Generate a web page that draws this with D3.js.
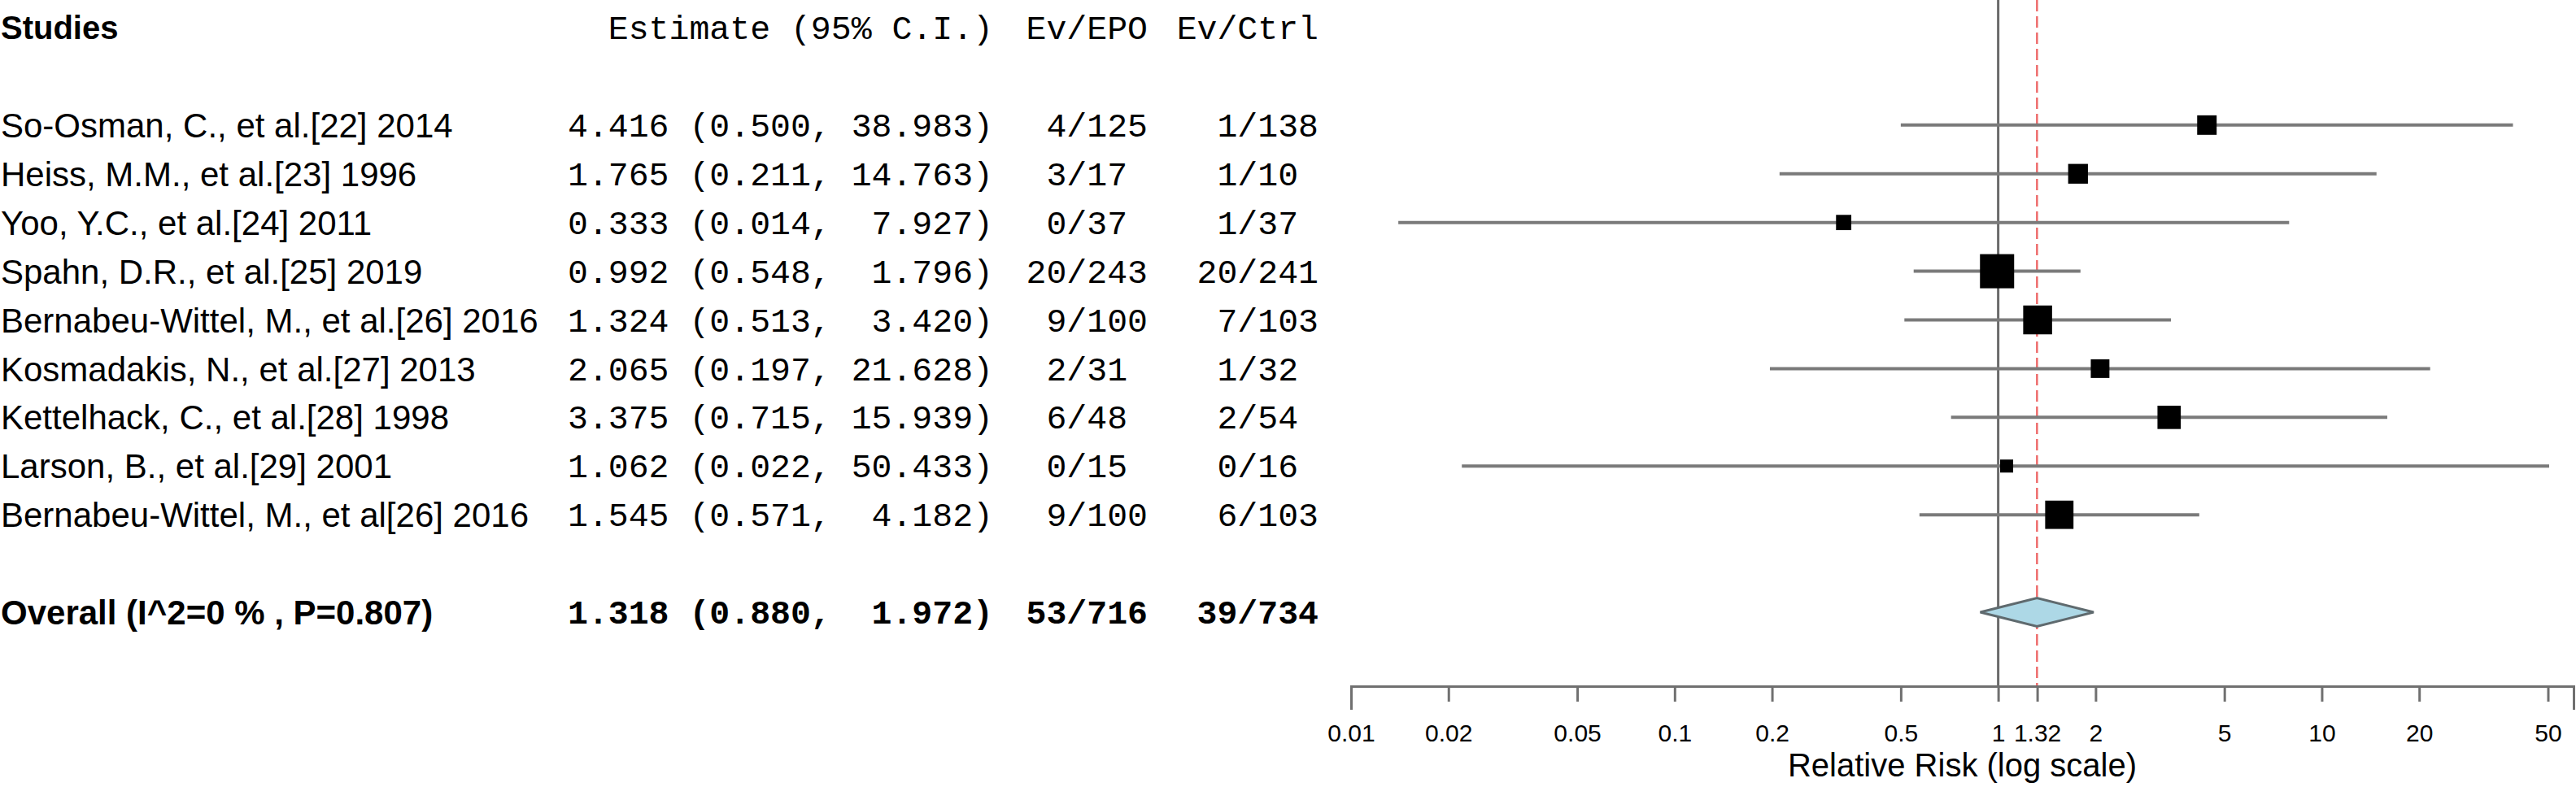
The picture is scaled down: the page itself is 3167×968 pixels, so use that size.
<!DOCTYPE html>
<html>
<head>
<meta charset="utf-8">
<script src="https://cdn.jsdelivr.net/npm/d3@7"></script>
<style>
html, body { margin: 0; padding: 0; background: #ffffff; }
svg { display: block; }
</style>
</head>
<body>
<script>
// ---------------- data ----------------
const studies = [
  "So-Osman, C., et al.[22] 2014",
  "Heiss, M.M., et al.[23] 1996",
  "Yoo, Y.C., et al.[24] 2011",
  "Spahn, D.R., et al.[25] 2019",
  "Bernabeu-Wittel, M., et al.[26] 2016",
  "Kosmadakis, N., et al.[27] 2013",
  "Kettelhack, C., et al.[28] 1998",
  "Larson, B., et al.[29] 2001",
  "Bernabeu-Wittel, M., et al[26] 2016"
];
const estimates = [4.416, 1.765, 0.333, 0.992, 1.324, 2.065, 3.375, 1.062, 1.545];
const lowerCI   = [0.500, 0.211, 0.014, 0.548, 0.513, 0.197, 0.715, 0.022, 0.571];
const upperCI   = [38.983, 14.763, 7.927, 1.796, 3.420, 21.628, 15.939, 50.433, 4.182];
const eventsEPO = [4, 3, 0, 20, 9, 2, 6, 0, 9];
const totalEPO  = [125, 17, 37, 243, 100, 31, 48, 15, 100];
const eventsCtrl = [1, 1, 1, 20, 7, 1, 2, 0, 6];
const totalCtrl  = [138, 10, 37, 241, 103, 32, 54, 16, 103];

const overallLabel = "Overall (I^2=0 % , P=0.807)";
const overallEstimate = 1.318;
const overallLower = 0.880;
const overallUpper = 1.972;
const overallEPO = [53, 716];
const overallCtrl = [39, 734];

const headers = ["Studies", "Estimate (95% C.I.)", "Ev/EPO", "Ev/Ctrl"];
const tickValues = [0.01, 0.02, 0.05, 0.1, 0.2, 0.5, 1, 1.32, 2, 5, 10, 20, 50];
const tickLabels = ["0.01", "0.02", "0.05", "0.1", "0.2", "0.5", "1", "1.32", "2", "5", "10", "20", "50"];
const axisTitle = "Relative Risk (log scale)";
const nullValue = 1;

// ---------------- layout ----------------
const W = 3167, H = 968;
const SANS = "'Liberation Sans', Arial, sans-serif";
const MONO = "'Liberation Mono', 'Courier New', monospace";
const axisY = 844;

const svg = d3.select("body").append("svg")
  .attr("width", W).attr("height", H)
  .attr("viewBox", `0 0 ${W} ${H}`);

const y = d3.scaleLinear().domain([0, 12]).range([34, 753]);
const x = d3.scaleLog().domain([0.01, 60]).range([1661, 3164]);

// inverse-variance weights from the CI, used for box size
const weights = lowerCI.map((l, i) => {
  const se = (Math.log(upperCI[i]) - Math.log(l)) / (2 * 1.96);
  return 1 / (se * se);
});
const boxSize = d3.scaleLog().domain(d3.extent(weights)).range([16, 42]);

const fmtEst = (e, l, u) => `${e.toFixed(3)} (${l.toFixed(3)}, ${u.toFixed(3).padStart(6)})`;
const fmtEv = (a, n) => String(a).padStart(2) + "/" + String(n).padEnd(3);

const rows = studies.map((s, i) => ({
  name: s, est: estimates[i], lo: lowerCI[i], hi: upperCI[i],
  epo: fmtEv(eventsEPO[i], totalEPO[i]), ctrl: fmtEv(eventsCtrl[i], totalCtrl[i]),
  w: weights[i], row: i + 2
}));

const colEstEnd = 1221, colEPOEnd = 1411, colCtrlEnd = 1621;

// ---------------- headers ----------------
const hdr = svg.append("g").attr("class", "headers");
hdr.append("text").attr("x", 1).attr("y", y(0)).attr("dy", "0.36em")
  .attr("font-family", SANS).attr("font-weight", "bold").attr("font-size", 40)
  .text(headers[0]);
[[headers[1], colEstEnd], [headers[2], colEPOEnd], [headers[3], colCtrlEnd]].forEach(([t, xe]) => {
  hdr.append("text").attr("x", xe).attr("y", y(0)).attr("dy", "0.34em")
    .attr("text-anchor", "end").attr("xml:space", "preserve").style("white-space", "pre")
    .attr("font-family", MONO).attr("font-size", 41.5).text(t);
});

// ---------------- study text ----------------
const tg = svg.append("g").attr("class", "table");
const rowG = tg.selectAll("g.row").data(rows).join("g").attr("class", "row")
  .attr("transform", d => `translate(0,${y(d.row)})`);
rowG.append("text").attr("x", 1).attr("dy", "0.36em")
  .attr("font-family", SANS).attr("font-size", 42).text(d => d.name);
rowG.append("text").attr("x", colEstEnd).attr("dy", "0.34em").attr("text-anchor", "end")
  .attr("xml:space", "preserve").style("white-space", "pre")
  .attr("font-family", MONO).attr("font-size", 41.5).text(d => fmtEst(d.est, d.lo, d.hi));
rowG.append("text").attr("x", colEPOEnd).attr("dy", "0.34em").attr("text-anchor", "end")
  .attr("xml:space", "preserve").style("white-space", "pre")
  .attr("font-family", MONO).attr("font-size", 41.5).text(d => d.epo);
rowG.append("text").attr("x", colCtrlEnd).attr("dy", "0.34em").attr("text-anchor", "end")
  .attr("xml:space", "preserve").style("white-space", "pre")
  .attr("font-family", MONO).attr("font-size", 41.5).text(d => d.ctrl);

// overall row text
const og = svg.append("g").attr("transform", `translate(0,${y(12)})`);
og.append("text").attr("x", 1).attr("dy", "0.36em")
  .attr("font-family", SANS).attr("font-weight", "bold").attr("font-size", 42).text(overallLabel);
og.append("text").attr("x", colEstEnd).attr("dy", "0.34em").attr("text-anchor", "end")
  .attr("xml:space", "preserve").style("white-space", "pre").attr("font-weight", "bold")
  .attr("font-family", MONO).attr("font-size", 41.5).text(fmtEst(overallEstimate, overallLower, overallUpper));
og.append("text").attr("x", colEPOEnd).attr("dy", "0.34em").attr("text-anchor", "end")
  .attr("xml:space", "preserve").style("white-space", "pre").attr("font-weight", "bold")
  .attr("font-family", MONO).attr("font-size", 41.5).text(fmtEv(overallEPO[0], overallEPO[1]));
og.append("text").attr("x", colCtrlEnd).attr("dy", "0.34em").attr("text-anchor", "end")
  .attr("xml:space", "preserve").style("white-space", "pre").attr("font-weight", "bold")
  .attr("font-family", MONO).attr("font-size", 41.5).text(fmtEv(overallCtrl[0], overallCtrl[1]));

// ---------------- plot ----------------
const pg = svg.append("g").attr("class", "plot");

// reference lines
pg.append("line").attr("x1", x(nullValue)).attr("x2", x(nullValue))
  .attr("y1", 0).attr("y2", axisY).attr("stroke", "#6a6a6a").attr("stroke-width", 3);
pg.append("line").attr("x1", x(overallEstimate)).attr("x2", x(overallEstimate))
  .attr("y1", 0).attr("y2", axisY).attr("stroke", "#ee6b6b").attr("stroke-width", 2.5)
  .attr("stroke-dasharray", "14,6");

// CI lines
pg.selectAll("line.ci").data(rows).join("line").attr("class", "ci")
  .attr("x1", d => x(d.lo)).attr("x2", d => x(d.hi))
  .attr("y1", d => y(d.row)).attr("y2", d => y(d.row))
  .attr("stroke", "#7a7a7a").attr("stroke-width", 4);

// boxes
pg.selectAll("rect.box").data(rows).join("rect").attr("class", "box")
  .attr("x", d => x(d.est) - boxSize(d.w) / 2)
  .attr("y", d => y(d.row) - boxSize(d.w) / 2)
  .attr("width", d => boxSize(d.w)).attr("height", d => boxSize(d.w))
  .attr("fill", "#000");

// overall diamond
const yc = y(12), hh = 17.5;
pg.append("path")
  .attr("d", d3.line()([
    [x(overallLower), yc], [x(overallEstimate), yc - hh],
    [x(overallUpper), yc], [x(overallEstimate), yc + hh]
  ]) + "Z")
  .attr("fill", "#add8e6").attr("stroke", "#5f6a6e").attr("stroke-width", 3);

// axis
const axis = d3.axisBottom(x).tickValues(tickValues)
  .tickFormat((d, i) => tickLabels[i]).tickSizeInner(19).tickSizeOuter(29);
const ag = svg.append("g").attr("transform", `translate(0,${axisY})`).call(axis);
ag.select(".domain").attr("stroke", "#707070").attr("stroke-width", 3);
ag.selectAll(".tick line").attr("stroke", "#707070").attr("stroke-width", 3);
ag.selectAll(".tick text").attr("y", 68).attr("dy", null)
  .attr("font-family", SANS).attr("font-size", 30).attr("fill", "#000");

svg.append("text").attr("x", (x.range()[0] + x.range()[1]) / 2).attr("y", 955)
  .attr("text-anchor", "middle").attr("font-family", SANS).attr("font-size", 40)
  .text(axisTitle);
</script>
</body>
</html>
